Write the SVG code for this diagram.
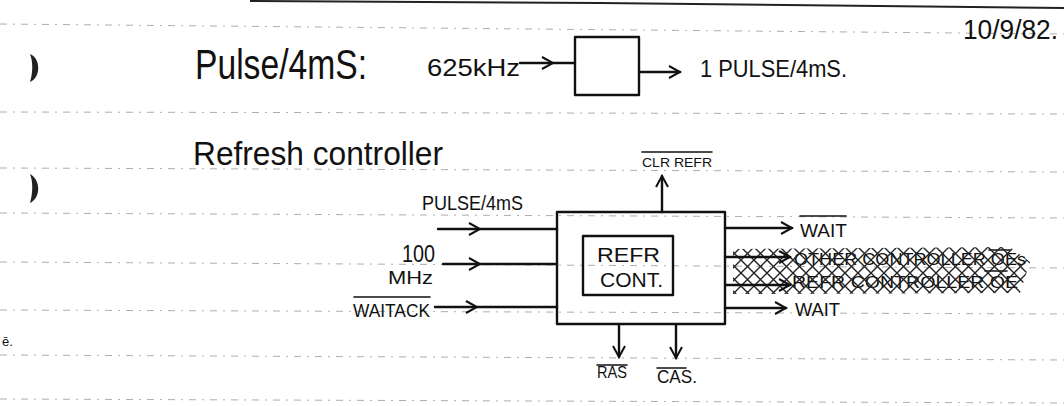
<svg xmlns="http://www.w3.org/2000/svg" width="1064" height="406" viewBox="0 0 1064 406">
<style>
.rule{stroke:#8a8a8a;stroke-width:1;stroke-dasharray:7 6 2 6;fill:none;opacity:.7}
.ink{stroke:#111;stroke-width:2.4;fill:none;stroke-linecap:round;stroke-linejoin:round}
.thin{stroke:#111;stroke-width:1.6;fill:none;stroke-linecap:round}
.hw{font-family:"Liberation Sans","DejaVu Sans",sans-serif;fill:#111}
.mid{font-size:24px}
.sm{font-size:19px}
.xs{font-size:16px}
</style>
<defs>
<marker id="chev" viewBox="0 0 14 14" refX="12" refY="7" markerWidth="14" markerHeight="14" markerUnits="userSpaceOnUse" orient="auto">
<polyline points="1,1 12,7 1,13" fill="none" stroke="#111" stroke-width="2"/>
</marker>
<pattern id="hatch" width="13" height="13" patternUnits="userSpaceOnUse">
<path d="M0,0 L13,13 M13,0 L0,13" stroke="#222" stroke-width="1.4" fill="none"/>
</pattern>
</defs>
<rect width="1064" height="406" fill="#fff"/>
<g id="paper">
<line class="rule" x1="0" y1="24" x2="1064" y2="34"/>
<line class="rule" x1="0" y1="112" x2="1064" y2="114"/>
<line class="rule" x1="0" y1="168" x2="1064" y2="172"/>
<line class="rule" x1="0" y1="213" x2="1064" y2="218"/>
<line class="rule" x1="0" y1="262" x2="1064" y2="268"/>
<line class="rule" x1="0" y1="310" x2="1064" y2="314"/>
<line class="rule" x1="0" y1="355" x2="1064" y2="360"/>
<line class="rule" x1="0" y1="399" x2="1064" y2="403"/>
<path d="M250,1 L600,3 L1064,8" stroke="#222" stroke-width="2" fill="none"/>
<path d="M30,54 C41,58 41,78 30,82 C33,72 33,62 30,54 Z" fill="#222"/>
<path d="M30,174 C41,180 41,198 30,203 C33,192 33,182 30,174 Z" fill="#222"/>
</g>
<g id="date"><text class="hw" x="963" y="39" font-size="27" textLength="95" lengthAdjust="spacingAndGlyphs">10/9/82.</text></g>
<g id="title1"><text class="hw" x="195" y="79" font-size="42" textLength="172" lengthAdjust="spacingAndGlyphs">Pulse/4mS:</text></g>
<g id="in625"><text class="hw mid" x="427" y="76" textLength="93" lengthAdjust="spacingAndGlyphs">625kHz</text></g>
<g id="divider"><rect class="ink" x="575" y="37" width="64" height="58"/></g>
<g id="out1"><text class="hw mid" x="700" y="77" textLength="147" lengthAdjust="spacingAndGlyphs">1 PULSE/4mS.</text></g>
<g id="title2"><text class="hw" x="193" y="165" font-size="34" textLength="250" lengthAdjust="spacingAndGlyphs">Refresh controller</text></g>
<g id="refr-box">
<rect class="ink" x="557" y="212" width="168" height="112"/>
<rect class="ink" x="583" y="236" width="90" height="59"/>
<text class="hw" x="597" y="262" font-size="21" textLength="63" lengthAdjust="spacingAndGlyphs">REFR</text>
<text class="hw" x="600" y="287" font-size="21" textLength="63" lengthAdjust="spacingAndGlyphs">CONT.</text>
</g>
<g id="labels" class="hw">
<text x="422" y="210" font-size="21" textLength="101" lengthAdjust="spacingAndGlyphs">PULSE/4mS</text>
<text x="402" y="262" font-size="23" textLength="33" lengthAdjust="spacingAndGlyphs">100</text>
<text x="388" y="284" font-size="18" textLength="45" lengthAdjust="spacingAndGlyphs">MHz</text>
<text class="sm" x="353" y="317" textLength="77" lengthAdjust="spacingAndGlyphs">WAITACK</text>
<text x="642" y="167" font-size="13" textLength="70" lengthAdjust="spacingAndGlyphs">CLR REFR</text>
<text class="sm" x="800" y="237" textLength="47" lengthAdjust="spacingAndGlyphs">WAIT</text>
<text class="xs" x="794" y="265" textLength="232" lengthAdjust="spacingAndGlyphs">OTHER CONTROLLER OEs</text>
<text class="xs" x="792" y="288" textLength="226" lengthAdjust="spacingAndGlyphs">REFR CONTROLLER OE</text>
<text class="sm" x="795" y="316" textLength="45" lengthAdjust="spacingAndGlyphs">WAIT</text>
<text x="597" y="378" font-size="17" textLength="30" lengthAdjust="spacingAndGlyphs">RAS</text>
<text class="sm" x="657" y="383" textLength="40" lengthAdjust="spacingAndGlyphs">CAS.</text>
<path class="thin" d="M354,297 H430 M642,152 H712 M800,216 H846 M989,250 H1010 M985,271 H1007 M597,365 H627 M657,368 H686"/>
</g>
<g id="hatching">
<path d="M733,249 L1010,247 L1030,262 L1020,293 L733,294 Z" fill="url(#hatch)"/>
</g>
<g id="connectors">
<path class="ink" d="M520,63 L553,63 L575,63" marker-mid="url(#chev)"/>
<path class="ink" d="M639,72 L680,72" marker-end="url(#chev)"/>
<path class="ink" d="M438,229 L480,229 L557,229" marker-mid="url(#chev)"/>
<path class="ink" d="M443,264 L480,264 L557,264" marker-mid="url(#chev)"/>
<path class="ink" d="M435,307 L477,307 L557,307" marker-mid="url(#chev)"/>
<path class="ink" d="M662,212 L662,176" marker-end="url(#chev)"/>
<path class="ink" d="M725,228 L792,228" marker-end="url(#chev)"/>
<path class="ink" d="M725,257 L790,257" marker-end="url(#chev)"/>
<path class="ink" d="M725,285 L790,285" marker-end="url(#chev)"/>
<path class="ink" d="M725,308 L786,308" marker-end="url(#chev)"/>
<path class="ink" d="M619,325 L619,357" marker-end="url(#chev)"/>
<path class="ink" d="M676,325 L676,358" marker-end="url(#chev)"/>
</g>
<g id="marks"><text class="hw" x="2" y="346" font-size="13">ē.</text></g>
</svg>
